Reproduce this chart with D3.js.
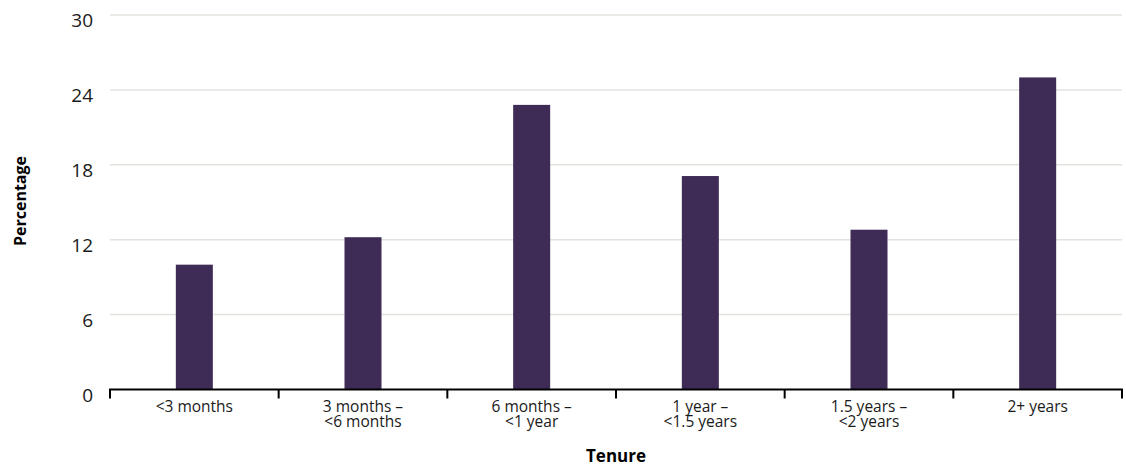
<!DOCTYPE html>
<html>
<head>
<meta charset="utf-8">
<script src="https://cdn.jsdelivr.net/npm/d3@7"></script>
<style>
  html, body { margin: 0; padding: 0; background: #fff; }
  svg { display: block; font-family: "Open Sans", sans-serif; }
</style>
</head>
<body>
<svg id="chart" width="1126" height="468"></svg>
<script>
const categories = [["<3 months"], ["3 months –", "<6 months"], ["6 months –", "<1 year"], ["1 year –", "<1.5 years"], ["1.5 years –", "<2 years"], ["2+ years"]];
const values = [10.0, 12.2, 22.8, 17.1, 12.8, 25.0];
const yTicks = [0, 6, 12, 18, 24, 30];
const xTitle = "Tenure";
const yTitle = "Percentage";

(function () {
const svg = d3.select("#chart");
const mLeft = 110, mRight = 1122, mTop = 15, mBottom = 389.5;
const keys = categories.map(c => c.join(" "));

const x = d3.scaleBand().domain(keys).range([mLeft, mRight]).paddingInner(0).paddingOuter(0);
const y = d3.scaleLinear().domain([0, 30]).range([mBottom, mTop]);

// grid
svg.append("g").selectAll("line").data(yTicks.filter(d => d > 0)).join("line")
  .attr("x1", mLeft).attr("x2", mRight)
  .attr("y1", d => y(d)).attr("y2", d => y(d))
  .attr("stroke", "#e4e2dc").attr("stroke-width", 1.5);

// y labels
svg.append("g").selectAll("text").data(yTicks).join("text")
  .attr("x", 93).attr("y", d => y(d) + 7)
  .attr("text-anchor", "end").attr("dominant-baseline", "middle")
  .attr("font-size", 19).attr("fill", "#1a1a1a")
  .text(d => d);

// bars
const bw = 37;
svg.append("g").selectAll("rect").data(values).join("rect")
  .attr("x", (d, i) => x(keys[i]) + x.bandwidth() / 2 - bw / 2)
  .attr("width", bw)
  .attr("y", d => y(d))
  .attr("height", d => y(0) - y(d))
  .attr("fill", "#3e2c56");

// x axis
const xAxis = d3.axisBottom(x).tickSize(0).tickFormat("");
const ax = svg.append("g").attr("transform", `translate(0,${mBottom})`).call(xAxis);
ax.select(".domain").remove();
ax.append("line").attr("x1", mLeft - 1).attr("x2", mRight + 1).attr("y1", 0).attr("y2", 0)
  .attr("stroke", "#000").attr("stroke-width", 2);
const bounds = keys.map(k => x(k)).concat([mRight]);
ax.selectAll("line.tk").data(bounds).join("line").attr("class", "tk")
  .attr("x1", d => d).attr("x2", d => d).attr("y1", 0).attr("y2", 9)
  .attr("stroke", "#000").attr("stroke-width", 2);

const lbl = svg.append("g").selectAll("text").data(categories).join("text")
  .attr("x", (d, i) => x(keys[i]) + x.bandwidth() / 2)
  .attr("y", 411.5)
  .attr("text-anchor", "middle").attr("font-size", 15.5).attr("fill", "#1a1a1a");
lbl.each(function(d) {
  const cx = d3.select(this).attr("x");
  d3.select(this).selectAll("tspan").data(d).join("tspan")
    .attr("x", cx)
    .attr("dy", (t, j) => j === 0 ? 0 : 15)
    .text(t => t);
});

svg.append("text").attr("x", (mLeft + mRight) / 2).attr("y", 462)
  .attr("text-anchor", "middle").attr("font-size", 17).attr("font-weight", "bold")
  .attr("fill", "#000").text(xTitle);

svg.append("text").attr("transform", "translate(26,201) rotate(-90)")
  .attr("text-anchor", "middle").attr("font-size", 16).attr("font-weight", "bold")
  .attr("fill", "#000").text(yTitle);
})();
</script>
</body>
</html>
